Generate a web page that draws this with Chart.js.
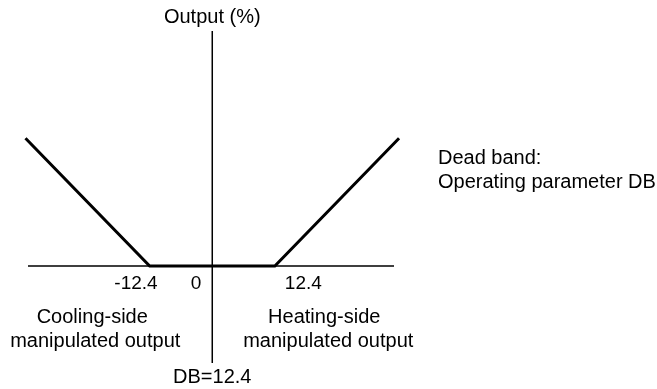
<!DOCTYPE html>
<html>
<head>
<meta charset="utf-8">
<script src="https://cdn.jsdelivr.net/npm/chart.js@4"></script>
<style>
  body { margin: 0; background: #fff; }
  #wrap { width: 657px; height: 389px; }
</style>
</head>
<body>
<div id="wrap"><canvas id="dbChart"></canvas></div>
<script>
// dead band characteristic: deviation vs. manipulated output
let deviation = [-37, -12.4, 12.4, 37];
let outputPct = [100, 0, 0, 100];
let tickValues = [-12.4, 0, 12.4];
let tickLabels = ["-12.4", "0", "12.4"];

let points = deviation.map((x, i) => ({ x: x, y: outputPct[i] }));
let font = '20px "Liberation Sans", Arial, sans-serif';

// axes through the origin plus all the annotation text
let axesAndText = {
    id: 'axesAndText',
    beforeDatasetsDraw(chart) {
        let ctx = chart.ctx;
        let a = chart.chartArea;
        let x0 = chart.scales.x.getPixelForValue(0);
        let y0 = chart.scales.y.getPixelForValue(0);
        ctx.save();
        ctx.strokeStyle = '#000';
        ctx.lineWidth = 1.5;
        ctx.beginPath();
        ctx.moveTo(a.left, y0);
        ctx.lineTo(a.right, y0);
        ctx.moveTo(x0, a.top);
        ctx.lineTo(x0, a.bottom);
        ctx.stroke();
        ctx.restore();
    },
    afterDraw(chart) {
        let ctx = chart.ctx;
        let xs = chart.scales.x;
        let x0 = xs.getPixelForValue(0);
        let y0 = chart.scales.y.getPixelForValue(0);
        ctx.save();
        ctx.fillStyle = '#000';
        ctx.textBaseline = 'middle';
        ctx.font = '19px "Liberation Sans", Arial, sans-serif';

        // tick labels sit beside the break points, not under them
        ctx.textAlign = 'right';
        ctx.fillText(tickLabels[0], xs.getPixelForValue(tickValues[0]) + 8, y0 + 18);
        ctx.fillText(tickLabels[1], xs.getPixelForValue(tickValues[1]) - 11, y0 + 18);
        ctx.textAlign = 'left';
        ctx.fillText(tickLabels[2], xs.getPixelForValue(tickValues[2]) + 10, y0 + 18);

        ctx.font = font;
        ctx.textAlign = 'center';
        ctx.fillText('Output (%)', x0, 17);
        ctx.fillText('Cooling-side', x0 - 120, y0 + 52);
        ctx.fillText('manipulated output', x0 - 117, y0 + 76);
        ctx.fillText('Heating-side', x0 + 112, y0 + 52);
        ctx.fillText('manipulated output', x0 + 116, y0 + 76);
        ctx.fillText('DB=12.4', x0, y0 + 112);

        ctx.textAlign = 'left';
        ctx.fillText('Dead band:', 438, 158);
        ctx.fillText('Operating parameter DB', 438, 182);
        ctx.restore();
    }
};

let chart = new Chart(document.getElementById('dbChart'), {
    type: 'scatter',
    data: {
        datasets: [{
            data: points,
            showLine: true,
            borderColor: '#000',
            borderWidth: 3,
            pointRadius: 0,
            clip: false
        }]
    },
    options: {
        responsive: true,
        maintainAspectRatio: false,
        animation: false,
        layout: { padding: { left: 28, right: 263, top: 31, bottom: 26 } },
        scales: {
            x: { type: 'linear', min: -36.5, max: 36, display: false },
            y: { type: 'linear', min: -76, max: 184, display: false }
        },
        plugins: {
            legend: { display: false },
            tooltip: { enabled: false }
        }
    },
    plugins: [axesAndText]
});
</script>
</body>
</html>
